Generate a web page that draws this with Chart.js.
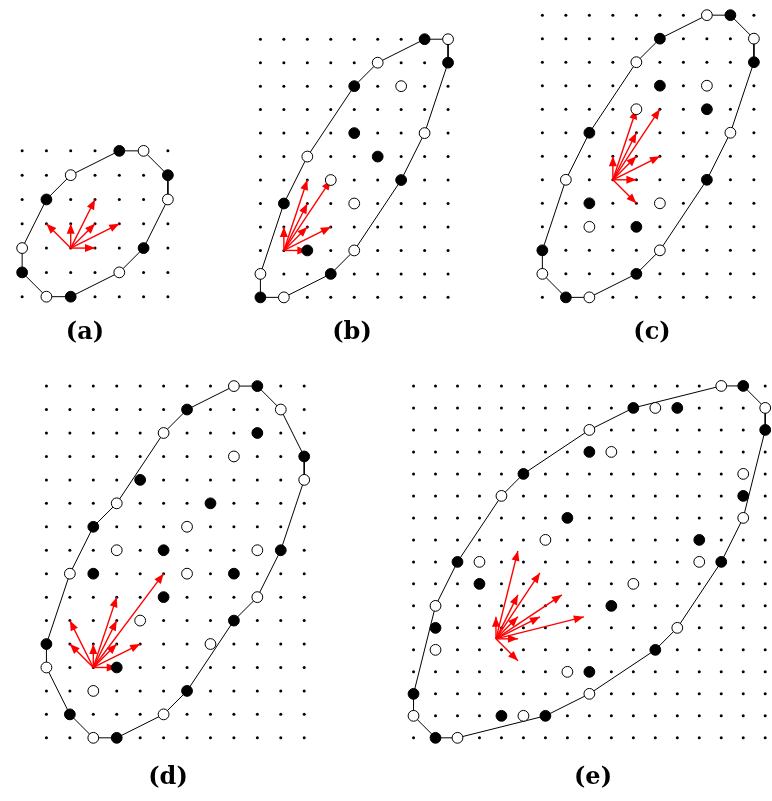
<!DOCTYPE html>
<html>
<head>
<meta charset="utf-8">
<script src="https://cdn.jsdelivr.net/npm/chart.js@4/dist/chart.umd.min.js"></script>
<style>
  html, body { margin: 0; padding: 0; background: #fff; overflow: hidden; }
  #wrap { position: relative; width: 772px; height: 801px; overflow: hidden; }
  #fig { position: absolute; left: 0; top: 0; }
  .cap { position: absolute; width: 80px; text-align: center; color: #000;
         font: bold 24px "DejaVu Serif", serif; line-height: 24px; white-space: nowrap; }
</style>
</head>
<body>
<div id="wrap">
  <canvas id="fig" width="772" height="801"></canvas>
</div>
<script>
// ---- Panel (a): 7 x 7 lattice ----
const gridA = [6, 6];
const hullA = [[4,6],[5,6],[6,5],[6,4],[5,2],[4,1],[2,0],[1,0],[0,1],[0,2],[1,4],[2,5]];
const filledA = [[4,6],[6,5],[5,2],[2,0],[0,1],[1,4]];
const openA = [[5,6],[6,4],[4,1],[1,0],[0,2],[2,5]];
const baseA = [2, 2];
const arrowsA = [[-1,1],[0,1],[1,2],[1,1],[2,1],[1,0]];

// ---- Panel (b): 9 x 12 lattice ----
const gridB = [8, 11];
const hullB = [[7,11],[8,11],[8,10],[7,7],[6,5],[4,2],[3,1],[1,0],[0,0],[0,1],[1,4],[2,6],[4,9],[5,10]];
const filledB = [[7,11],[8,10],[4,9],[4,7],[5,6],[6,5],[1,4],[2,2],[3,1],[0,0]];
const openB = [[8,11],[5,10],[6,9],[7,7],[2,6],[3,5],[4,4],[4,2],[0,1],[1,0]];
const baseB = [1, 2];
const arrowsB = [[0,1],[1,3],[1,2],[2,3],[1,1],[2,1],[1,0]];

// ---- Panel (c): 10 x 13 lattice ----
const gridC = [9, 12];
const hullC = [[7,12],[8,12],[9,11],[9,10],[8,7],[7,5],[5,2],[4,1],[2,0],[1,0],[0,1],[0,2],[1,5],[2,7],[4,10],[5,11]];
const filledC = [[8,12],[5,11],[9,10],[5,9],[7,8],[2,7],[7,5],[2,4],[4,3],[0,2],[4,1],[1,0]];
const openC = [[7,12],[9,11],[4,10],[7,9],[4,8],[8,7],[1,5],[5,4],[2,3],[5,2],[0,1],[2,0]];
const baseC = [3, 5];
const arrowsC = [[1,3],[2,3],[1,2],[0,1],[1,1],[2,1],[1,0],[1,-1]];

// ---- Panel (d): 12 x 16 lattice ----
const gridD = [11, 15];
const hullD = [[8,15],[9,15],[10,14],[11,12],[11,11],[10,8],[9,6],[8,5],[6,2],[5,1],[3,0],[2,0],[1,1],[0,3],[0,4],[1,7],[2,9],[3,10],[5,13],[6,14]];
const filledD = [[9,15],[6,14],[9,13],[11,12],[4,11],[7,10],[2,9],[5,8],[10,8],[2,7],[8,7],[5,6],[8,5],[0,4],[3,3],[6,2],[1,1],[3,0]];
const openD = [[8,15],[10,14],[5,13],[8,12],[11,11],[3,10],[6,9],[3,8],[9,8],[1,7],[6,7],[9,6],[4,5],[7,4],[0,3],[2,2],[5,1],[2,0]];
const baseD = [2, 3];
const arrowsD = [[-1,2],[-1,1],[0,1],[1,3],[1,2],[1,1],[2,1],[3,4],[1,0]];

// ---- Panel (e): 17 x 17 lattice ----
const gridE = [16, 16];
const hullE = [[14,16],[15,16],[16,15],[16,14],[15,10],[14,8],[12,5],[11,4],[8,2],[6,1],[2,0],[1,0],[0,1],[0,2],[1,6],[2,8],[4,11],[5,12],[8,14],[10,15]];
const filledE = [[15,16],[10,15],[12,15],[16,14],[8,13],[5,12],[15,11],[7,10],[13,9],[2,8],[14,8],[3,7],[9,6],[1,5],[11,4],[8,3],[0,2],[4,1],[6,1],[1,0]];
const openE = [[14,16],[11,15],[16,15],[8,14],[9,13],[15,12],[4,11],[15,10],[6,9],[3,8],[13,8],[10,7],[1,6],[12,5],[1,4],[7,3],[8,2],[0,1],[5,1],[2,0]];
const baseE = [3.75, 4.5];
const arrowsE = [[1,4],[2,3],[3,2],[4,1],[1,2],[2,1],[1,1],[0,1],[1,0],[1,-1]];

const captions = ['(a)', '(b)', '(c)', '(d)', '(e)'];

// Placement of each panel on the page: pixel of lattice point (0,0) and lattice step.
const frames = [
  { x0: 16.0,  y0: 295.0, step: 24.70, capX: 85,  capY: 339 },
  { x0: 258.3, y0: 295.7, step: 23.85, capX: 352, capY: 339 },
  { x0: 545.0, y0: 295.7, step: 23.90, capX: 652, capY: 339 },
  { x0: 40.7,  y0: 743.3, step: 23.83, capX: 168, capY: 784 },
  { x0: 414.0, y0: 743.3, step: 22.35, capX: 593, capY: 784 }
];

const panels = [
  { grid: gridA, hull: hullA, filled: filledA, open: openA, base: baseA, arrows: arrowsA },
  { grid: gridB, hull: hullB, filled: filledB, open: openB, base: baseB, arrows: arrowsB },
  { grid: gridC, hull: hullC, filled: filledC, open: openC, base: baseC, arrows: arrowsC },
  { grid: gridD, hull: hullD, filled: filledD, open: openD, base: baseD, arrows: arrowsD },
  { grid: gridE, hull: hullE, filled: filledE, open: openE, base: baseE, arrows: arrowsE }
];

const W = 772, H = 801;
const RED = '#ff0000';
const pt = p => ({ x: p[0], y: p[1] });

const datasets = [];
const scales = { x: { display: false }, y: { display: false } };

panels.forEach((p, k) => {
  const f = frames[k];
  const xid = 'x' + k, yid = 'y' + k;
  // each panel gets its own pair of hidden linear axes spanning the whole canvas
  scales[xid] = { type: 'linear', axis: 'x', display: false,
                  min: -f.x0 / f.step, max: (W - f.x0) / f.step };
  scales[yid] = { type: 'linear', axis: 'y', display: false,
                  min: (f.y0 - H) / f.step, max: f.y0 / f.step };
  const common = { xAxisID: xid, yAxisID: yid, clip: false };

  // lattice
  const lattice = [];
  for (let j = 0; j <= p.grid[1]; j++)
    for (let i = 0; i <= p.grid[0]; i++) lattice.push({ x: i, y: j });
  datasets.push({ ...common, order: 5, data: lattice, pointRadius: 1.5,
                  backgroundColor: '#000', borderWidth: 0, pointHoverRadius: 1.5 });

  // closed boundary polygon
  datasets.push({ ...common, order: 4, data: [...p.hull, p.hull[0]].map(pt),
                  showLine: true, borderColor: '#000', borderWidth: 1,
                  pointRadius: 0, pointHoverRadius: 0, fill: false, tension: 0 });

  // red direction vectors
  p.arrows.forEach(v => {
    datasets.push({ ...common, order: 3, arrow: true,
                    data: [pt(p.base), { x: p.base[0] + v[0], y: p.base[1] + v[1] }],
                    showLine: true, borderColor: RED, borderWidth: 1.4,
                    pointRadius: 0, pointHoverRadius: 0, fill: false, tension: 0 });
  });

  // filled and open lattice points
  datasets.push({ ...common, order: 2, data: p.filled.map(pt), pointRadius: 5.4,
                  backgroundColor: '#000', borderColor: '#000', borderWidth: 1 });
  datasets.push({ ...common, order: 1, data: p.open.map(pt), pointRadius: 5.4,
                  backgroundColor: '#fff', borderColor: '#000', borderWidth: 1 });
});

// draws a filled arrowhead at the end of every vector dataset
const arrowHeads = {
  id: 'arrowHeads',
  afterDatasetDraw(chart, args) {
    const ds = chart.data.datasets[args.index];
    if (!ds.arrow) return;
    const [a, b] = args.meta.data;
    const ang = Math.atan2(b.y - a.y, b.x - a.x);
    const ctx = chart.ctx;
    ctx.save();
    ctx.translate(b.x, b.y);
    ctx.rotate(ang);
    ctx.beginPath();
    ctx.moveTo(0, 0);
    ctx.lineTo(-10, 4);
    ctx.lineTo(-10, -4);
    ctx.closePath();
    ctx.fillStyle = ds.borderColor;
    ctx.fill();
    ctx.restore();
  }
};

new Chart(document.getElementById('fig'), {
  type: 'scatter',
  data: { datasets },
  options: {
    responsive: false,
    animation: false,
    events: [],
    layout: { padding: 0 },
    scales,
    plugins: { legend: { display: false }, tooltip: { enabled: false }, title: { display: false } }
  },
  plugins: [arrowHeads]
});

// panel captions
const wrap = document.getElementById('wrap');
captions.forEach((t, k) => {
  const d = document.createElement('div');
  d.className = 'cap';
  d.textContent = t;
  d.style.left = (frames[k].capX - 40) + 'px';
  d.style.top = (frames[k].capY - 20.3) + 'px';
  wrap.appendChild(d);
});
</script>
</body>
</html>
